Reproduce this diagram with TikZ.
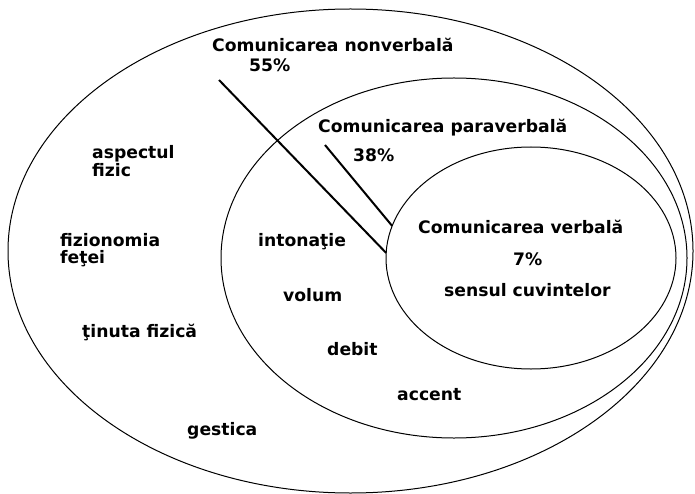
\documentclass[tikz,border=0pt]{standalone}
\usepackage{fontspec}
\setmainfont{DejaVu Sans}
\usetikzlibrary{positioning,shapes.geometric}

\begin{document}
\begin{tikzpicture}[
        x=1pt, y=-1pt,
        ring/.style={ellipse, draw, line width=1pt, inner sep=0pt, outer sep=0pt},
        lbl/.style={anchor=west, inner sep=0pt,
                    font=\bfseries\fontsize{17.2}{20}\selectfont},
        ln/.style={line width=2pt}
      ]
        \useasboundingbox (0,0) rectangle (695,494);

        \node[ring, minimum width=685pt, minimum height=484pt] (outer) at (350.5,251) {};
        \node[ring, minimum width=466pt, minimum height=360pt] (para) at (454,258) {};
        \node[ring, minimum width=290pt, minimum height=222pt] (verb) at (531,258) {};

        \node[lbl] (nonv) at (212,45) {Comunicarea nonverbală};
        \node[lbl] (p55) at (249,65) {55\%};
        \node[lbl] (parav) at (318,128) {Comunicarea paraverbală};
        \node[lbl] (p38) at (353,155) {38\%};
        \node[lbl] (verbal) at (418,227) {Comunicarea verbală};
        \node[lbl] (p7) at (513,259) {7\%};
        \node[lbl] (sens) at (444,290) {sensul cuvintelor};

        \node[lbl] (asp) at (92,154) {aspectul};
        \node[lbl, below=1pt of asp.south west, anchor=north west] (fizic) {fizic};
        \node[lbl] (fiz) at (60,240) {fizionomia};
        \node[lbl, below=3pt of fiz.south west, anchor=north west] (fetei) {feţei};
        \node[lbl] (tin) at (82,332) {ţinuta fizică};
        \node[lbl] (gest) at (187,431) {gestica};

        \node[lbl] (inton) at (258,242) {intonaţie};
        \node[lbl] (vol) at (283,295) {volum};
        \node[lbl] (deb) at (327,349) {debit};
        \node[lbl] (acc) at (397,395) {accent};

        \coordinate (nvstart) at (219,80);
        \coordinate (pvstart) at (325,145);
        \draw[ln] (nvstart) -- (verb.178);
        \draw[ln] (pvstart) -- (verb.167);
      \end{tikzpicture}
\end{document}
